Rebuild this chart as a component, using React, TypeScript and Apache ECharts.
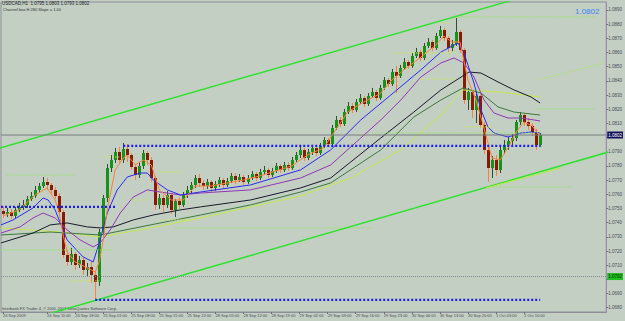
import React, { useEffect, useRef } from "react";
import * as echarts from "echarts";

const symbolTitle = "USDCAD,H1";
const indicatorNote = "Channel box H 280 Slope = 1.00";
const copyright = "Interbank FX Trader 4, \u00a9 2001-2007 MetaQuotes Software Corp.";

const barSlots = 151;

const opens = [
  1.07482,1.07461,1.07475,1.07447,1.07490,1.07511,1.07525,1.07567,1.07588,1.07631,
  1.07659,1.07687,1.07666,1.07631,1.07588,1.07475,1.07172,1.07123,1.07179,1.07102,
  1.07137,1.07067,1.07088,1.07031,1.06982,1.07334,1.07574,1.07786,1.07842,1.07898,
  1.07842,1.07920,1.07877,1.07793,1.07736,1.07800,1.07891,1.07842,1.07715,1.07525,
  1.07574,1.07525,1.07595,1.07490,1.07553,1.07525,1.07595,1.07631,1.07666,1.07715,
  1.07680,1.07659,1.07687,1.07645,1.07673,1.07701,1.07666,1.07694,1.07729,1.07701,
  1.07722,1.07687,1.07715,1.07743,1.07715,1.07757,1.07772,1.07736,1.07764,1.07800,
  1.07772,1.07807,1.07786,1.07842,1.07877,1.07913,1.07856,1.07898,1.07927,1.07891,
  1.07941,1.07983,1.07955,1.08068,1.08124,1.08096,1.08180,1.08223,1.08195,1.08251,
  1.08279,1.08237,1.08293,1.08321,1.08279,1.08350,1.08406,1.08378,1.08462,1.08434,
  1.08491,1.08533,1.08505,1.08575,1.08603,1.08561,1.08646,1.08674,1.08632,1.08716,
  1.08759,1.08702,1.08632,1.08660,1.08744,1.08618,1.08265,1.08321,1.08195,1.08293,
  1.08089,1.07913,1.07786,1.07842,1.07772,1.07913,1.07948,1.07976,1.07997,1.08110,
  1.08159,1.08110,1.08082,1.08039,1.07948,
];
const closes = [
  1.07461,1.07475,1.07447,1.07490,1.07511,1.07525,1.07567,1.07588,1.07631,1.07659,
  1.07687,1.07666,1.07631,1.07588,1.07475,1.07172,1.07123,1.07179,1.07102,1.07137,
  1.07067,1.07088,1.07031,1.06982,1.07334,1.07574,1.07786,1.07842,1.07898,1.07842,
  1.07920,1.07877,1.07793,1.07736,1.07800,1.07891,1.07842,1.07715,1.07525,1.07574,
  1.07525,1.07595,1.07490,1.07553,1.07525,1.07595,1.07631,1.07666,1.07715,1.07680,
  1.07659,1.07687,1.07645,1.07673,1.07701,1.07666,1.07694,1.07729,1.07701,1.07722,
  1.07687,1.07715,1.07743,1.07715,1.07757,1.07772,1.07736,1.07764,1.07800,1.07772,
  1.07807,1.07786,1.07842,1.07877,1.07913,1.07856,1.07898,1.07927,1.07891,1.07941,
  1.07983,1.07955,1.08068,1.08124,1.08096,1.08180,1.08223,1.08195,1.08251,1.08279,
  1.08237,1.08293,1.08321,1.08279,1.08350,1.08406,1.08378,1.08462,1.08434,1.08491,
  1.08533,1.08505,1.08575,1.08603,1.08561,1.08646,1.08674,1.08632,1.08716,1.08759,
  1.08702,1.08632,1.08660,1.08744,1.08618,1.08265,1.08321,1.08195,1.08293,1.08089,
  1.07913,1.07786,1.07842,1.07772,1.07913,1.07948,1.07976,1.07997,1.08110,1.08159,
  1.08110,1.08082,1.08039,1.07948,1.08018,
];
const highs = [
  1.07517,1.07504,1.07497,1.07511,1.07539,1.07560,1.07588,1.07616,1.07659,1.07680,
  1.07722,1.07715,1.07680,1.07652,1.07609,1.07490,1.07208,1.07222,1.07193,1.07165,
  1.07158,1.07116,1.07123,1.07052,1.07356,1.07595,1.07814,1.07877,1.07927,1.07934,
  1.07962,1.07955,1.07891,1.07814,1.07828,1.07913,1.07905,1.07863,1.07729,1.07602,
  1.07595,1.07623,1.07609,1.07567,1.07581,1.07616,1.07659,1.07687,1.07736,1.07743,
  1.07701,1.07708,1.07701,1.07694,1.07722,1.07715,1.07715,1.07750,1.07750,1.07743,
  1.07736,1.07736,1.07764,1.07757,1.07779,1.07800,1.07786,1.07786,1.07821,1.07814,
  1.07828,1.07828,1.07863,1.07898,1.07948,1.07927,1.07920,1.07948,1.07941,1.07962,
  1.08004,1.07997,1.08089,1.08152,1.08145,1.08202,1.08251,1.08244,1.08272,1.08307,
  1.08293,1.08314,1.08350,1.08336,1.08371,1.08427,1.08420,1.08484,1.08505,1.08512,
  1.08561,1.08547,1.08596,1.08632,1.08618,1.08667,1.08702,1.08688,1.08737,1.08787,
  1.08773,1.08716,1.08688,1.08843,1.08759,1.08632,1.08350,1.08336,1.08314,1.08307,
  1.08110,1.07934,1.07870,1.07877,1.07934,1.07983,1.08004,1.08025,1.08124,1.08180,
  1.08173,1.08138,1.08103,1.08061,1.08032,
];
const lows = [
  1.07433,1.07440,1.07426,1.07433,1.07475,1.07490,1.07504,1.07553,1.07574,1.07609,
  1.07645,1.07631,1.07602,1.07567,1.07461,1.07151,1.07095,1.07102,1.07067,1.07081,
  1.07031,1.07024,1.06975,1.06862,1.06954,1.07306,1.07546,1.07757,1.07821,1.07814,
  1.07821,1.07828,1.07772,1.07701,1.07715,1.07779,1.07807,1.07687,1.07490,1.07497,
  1.07475,1.07504,1.07461,1.07440,1.07497,1.07511,1.07574,1.07609,1.07645,1.07652,
  1.07631,1.07638,1.07616,1.07624,1.07652,1.07638,1.07652,1.07680,1.07673,1.07687,
  1.07666,1.07673,1.07701,1.07694,1.07701,1.07736,1.07715,1.07722,1.07750,1.07750,
  1.07757,1.07764,1.07772,1.07828,1.07856,1.07835,1.07842,1.07877,1.07870,1.07877,
  1.07927,1.07934,1.07941,1.08054,1.08075,1.08082,1.08166,1.08173,1.08180,1.08237,
  1.08216,1.08223,1.08279,1.08258,1.08265,1.08336,1.08357,1.08364,1.08314,1.08420,
  1.08477,1.08484,1.08491,1.08561,1.08540,1.08547,1.08632,1.08610,1.08618,1.08702,
  1.08681,1.08603,1.08610,1.08646,1.08596,1.08237,1.08195,1.08138,1.08103,1.08068,
  1.07884,1.07687,1.07715,1.07729,1.07750,1.07884,1.07913,1.07941,1.07976,1.08089,
  1.08082,1.08054,1.08011,1.07913,1.07934,
];

// moving averages: [bar, price]
const maFast = [
  [0,1.07447],[4,1.07490],[8,1.07595],[11,1.07645],[13,1.07560],[14,1.07475],[15,1.07313],
  [16,1.07193],[18,1.07123],[20,1.07095],[22,1.07067],[23,1.07052],[24,1.07123],[25,1.07278],
  [26,1.07490],[27,1.07631],[28,1.07772],[30,1.07856],[31,1.07877],[33,1.07807],[35,1.07842],
  [37,1.07807],[39,1.07631],[42,1.07560],[45,1.07560],[48,1.07659],[52,1.07659],[56,1.07680],
  [60,1.07701],[64,1.07729],[68,1.07764],[72,1.07800],[76,1.07877],[80,1.07927],[83,1.08054],
  [86,1.08180],[90,1.08251],[94,1.08307],[97,1.08406],[100,1.08477],[104,1.08561],[108,1.08653],
  [110,1.08716],[112,1.08674],[114,1.08674],[116,1.08406],[118,1.08265],[120,1.08068],
  [122,1.07856],[124,1.07842],[126,1.07927],[128,1.08039],[130,1.08110],[132,1.08082],[134,1.08011],
];
const maBlue = [
  [-0.5,1.07384],[2.5,1.07419],[7.5,1.07504],[10,1.07574],[11.25,1.07560],[13,1.07490],
  [16,1.07278],[20,1.07158],[22.5,1.07123],[24.25,1.07278],[26,1.07468],[28.5,1.07631],
  [31,1.07722],[34.25,1.07750],[36,1.07750],[37.5,1.07701],[41,1.07631],[44.25,1.07595],
  [47.5,1.07609],[49.25,1.07616],[61.75,1.07666],[74.25,1.07772],[81.75,1.07913],
  [89.25,1.08124],[96.75,1.08300],[104.25,1.08477],[109.25,1.08603],[113.5,1.08667],
  [115,1.08596],[117.5,1.08385],[119.25,1.08195],[121,1.08075],[122.5,1.08032],[126,1.08004],
  [129.25,1.08032],[131.75,1.08039],[134,1.08032],
];
const maPurple = [
  [-0.5,1.07327],[4.25,1.07370],[7.5,1.07433],[10,1.07468],[13,1.07433],[16,1.07349],
  [19.25,1.07278],[22.5,1.07229],[24.25,1.07257],[26.75,1.07349],[29.25,1.07468],
  [32.5,1.07581],[36,1.07631],[39.25,1.07616],[44.25,1.07595],[49.25,1.07609],[61.75,1.07631],
  [74.25,1.07715],[81.75,1.07807],[89.25,1.07997],[94.25,1.08124],[99.25,1.08265],
  [104.25,1.08427],[109.25,1.08526],[112.5,1.08561],[115,1.08526],[117.5,1.08427],
  [120,1.08265],[122.5,1.08173],[126,1.08138],[129.25,1.08138],[132.5,1.08124],[134,1.08117],
];
const maBlack = [
  [-0.5,1.07257],[7.5,1.07327],[11.75,1.07384],[16,1.07398],[21,1.07370],[24.25,1.07363],
  [27.5,1.07370],[32.5,1.07419],[37.5,1.07454],[44.25,1.07490],[49.25,1.07511],[61.75,1.07560],
  [74.25,1.07645],[81.75,1.07715],[86.75,1.07828],[94.25,1.07997],[102.5,1.08180],
  [109.25,1.08336],[116.25,1.08462],[119.25,1.08455],[123.5,1.08392],[127.5,1.08336],
  [131.75,1.08286],[134,1.08244],
];
const maGreen = [
  [-0.5,1.07313],[11.75,1.07334],[24.25,1.07313],[36.75,1.07384],[49.25,1.07454],
  [61.75,1.07525],[74.25,1.07616],[81.75,1.07680],[94.25,1.07913],[102.5,1.08145],
  [109.25,1.08265],[114.75,1.08350],[119.25,1.08314],[123.5,1.08216],[127.5,1.08180],[134,1.08159],
];
const maLime = [
  [-0.5,1.07363],[14.25,1.07334],[24.25,1.07299],[36.75,1.07363],[49.25,1.07433],
  [61.75,1.07511],[74.25,1.07588],[86.75,1.07715],[99.25,1.07913],[109.25,1.08159],
  [114.75,1.08336],[124.25,1.08321],[134,1.08286],
];

// horizontal objects: price, from bar, to bar
const levelsGreen = [
  [1.08850, 112, 148], [1.08202, 133, 148], [1.08032, 92, 134], [1.07652, 120, 142],
  [1.07736, 1, 18], [1.07363, 43, 92], [1.07208, -0.5, 27],
];
const levelsYellow = [
  [1.08808, 109, 112], [1.08596, 97, 113], [1.08413, 104, 113], [1.08075, 115, 122],
  [1.07863, 25, 29], [1.07757, 39, 45], [1.07560, 32, 36], [1.07419, 39, 47], [1.06989, 17, 24],
];
const levelsBlue = [
  [1.07511, -0.5, 28], [1.07941, 30, 134], [1.06855, 23, 134],
];
const channelUpper = [[-1, 1.07925], [131, 1.09001]];
const channelLower = [[10, 1.06745], [151, 1.07898]];
const channelInner = [[120.5, 1.07645], [139.25, 1.07786]];
const channelDotted = [[133.5, 1.08406], [150, 1.08526]];
const lineObjectPrice = 1.0702;

const priceTicks = [
  1.068, 1.069, 1.07, 1.071, 1.072, 1.073, 1.074, 1.075, 1.076, 1.077, 1.078,
  1.079, 1.08, 1.081, 1.082, 1.083, 1.084, 1.085, 1.086, 1.087, 1.088, 1.089,
];
const timeLabelBars = [0, 11, 18, 25, 32, 39, 46, 53, 60, 67, 74, 81, 88, 95, 102, 109, 116, 123, 130];
const timeLabels = [
  "24 Sep 2009", "24 Sep 11:00", "24 Sep 18:00", "25 Sep 01:00", "25 Sep 08:00", "25 Sep 15:00",
  "25 Sep 22:00", "28 Sep 05:00", "28 Sep 12:00", "28 Sep 19:00", "29 Sep 02:00", "29 Sep 09:00",
  "29 Sep 16:00", "29 Sep 23:00", "30 Sep 06:00", "30 Sep 13:00", "30 Sep 20:00", "1 Oct 03:00",
  "1 Oct 10:00",
];

const FONT = "'Liberation Sans', Arial, sans-serif";

export default function App() {
  const ref = useRef<HTMLDivElement>(null);
  useEffect(() => {
    if (!ref.current) return;
    const chart = echarts.init(ref.current, null, { renderer: "svg" });
    const n = closes.length;
    const last = n - 1;
    const bid = closes[last];
    const candleData = closes.map((c, i) => [i, opens[i], c, lows[i], highs[i]]);
    const boxedPrices = [bid, lineObjectPrice];

    const seg = (arr: number[][], color: string, width: number, type: any, z = 3) =>
      arr.map(([p, a, b]) => ({
        type: "line",
        data: [[a, p], [b, p]],
        symbol: "none",
        silent: true,
        z,
        lineStyle: { color, width, type },
      }));

    const lineSeries = (data: number[][], color: string, width: number, type: any = "solid", z = 3) => ({
      type: "line",
      data,
      symbol: "none",
      silent: true,
      z,
      lineStyle: { color, width, type },
    });

    const option: any = {
      animation: false,
      backgroundColor: "#c3cfc2",
      grid: {
        left: 1,
        right: 18,
        top: 2,
        bottom: 9,
        show: true,
        borderColor: "#8e8e9a",
        borderWidth: 1,
      },
      xAxis: {
        type: "value",
        min: -0.5,
        max: barSlots - 0.5,
        splitLine: { show: false },
        axisLine: { show: true, lineStyle: { color: "#8e8e9a" } },
        axisTick: { show: true, customValues: timeLabelBars, length: 2, lineStyle: { color: "#707080" } },
        axisLabel: {
          customValues: timeLabelBars,
          formatter: (v: number) => timeLabels[timeLabelBars.indexOf(Math.round(v))] || "",
          fontSize: 4,
          color: "#4a4a5a",
          fontFamily: FONT,
          align: "left",
          margin: 1,
        },
      },
      yAxis: {
        type: "value",
        position: "right",
        min: 1.0677,
        max: 1.08956,
        splitLine: { show: false },
        axisLine: { show: true, onZero: false, lineStyle: { color: "#a08cb0" } },
        axisTick: { show: true, customValues: priceTicks, length: 2, lineStyle: { color: "#707080" } },
        axisLabel: {
          customValues: priceTicks,
          formatter: (v: number) =>
            boxedPrices.some((p) => Math.abs(p - v) < 0.0004) ? "" : v.toFixed(4),
          fontSize: 4.5,
          color: "#4a4a5a",
          fontFamily: FONT,
          margin: 2,
        },
      },
      series: [
        {
          type: "custom",
          data: candleData,
          clip: true,
          silent: true,
          z: 2,
          encode: { x: 0, y: [1, 2, 3, 4] },
          renderItem: (params: any, api: any) => {
            const i = api.value(0);
            const o = api.value(1);
            const c = api.value(2);
            const l = api.value(3);
            const h = api.value(4);
            const pO = api.coord([i, o]);
            const pC = api.coord([i, c]);
            const pL = api.coord([i, l]);
            const pH = api.coord([i, h]);
            const x = Math.round(pO[0]);
            const bull = c >= o;
            const top = Math.round(Math.min(pO[1], pC[1]));
            const bot = Math.round(Math.max(pO[1], pC[1]));
            return {
              type: "group",
              children: [
                {
                  type: "line",
                  shape: { x1: x + 0.5, y1: pH[1], x2: x + 0.5, y2: pL[1] },
                  style: { stroke: bull ? "#2f4f2f" : "#ff8040", lineWidth: 1 },
                },
                {
                  type: "rect",
                  shape: { x: x - 1, y: top, width: 3, height: Math.max(1, bot - top) },
                  style: { fill: bull ? "#17921a" : "#861a02" },
                },
              ],
            };
          },
        },
        lineSeries(maLime, "#c6e84e", 1),
        lineSeries(maGreen, "#3b7a3b", 1),
        lineSeries(maBlack, "#1a1a2c", 1),
        lineSeries(maPurple, "#9236b8", 1),
        lineSeries(maBlue, "#2a2af2", 1),
        lineSeries(maFast, "#ff7f3c", 1),
        ...seg(levelsGreen, "#8ee860", 1, [1.5, 1.5], 4),
        ...seg(levelsYellow, "#c8ec4a", 1, [1.5, 1.5], 4),
        lineSeries(channelUpper, "#2ee22e", 1.5, "solid", 4),
        lineSeries(channelLower, "#2ee22e", 1.5, "solid", 4),
        lineSeries(channelInner, "#b8ec3c", 1, "solid", 4),
        lineSeries(channelDotted, "#a8ec5a", 1, [1.5, 1.5], 4),
        ...seg(levelsBlue, "#1c1cff", 2.2, [2, 2], 5),
        {
          type: "line",
          data: [[-0.5, lineObjectPrice], [barSlots - 0.5, lineObjectPrice]],
          symbol: "none",
          silent: true,
          z: 4,
          lineStyle: { color: "#8a8a92", width: 1, type: [1, 1] },
          endLabel: {
            show: true,
            formatter: lineObjectPrice.toFixed(4),
            backgroundColor: "#1fbf1f",
            color: "#0c2a0c",
            fontSize: 4.5,
            fontFamily: FONT,
            padding: [1, 1, 1, 1],
            distance: 1,
          },
        },
        {
          type: "line",
          data: [[-0.5, bid], [barSlots - 0.5, bid]],
          symbol: "none",
          silent: true,
          z: 4,
          lineStyle: { color: "#7a7a82", width: 1 },
          endLabel: {
            show: true,
            formatter: bid.toFixed(4),
            backgroundColor: "#12125a",
            color: "#ffffff",
            fontSize: 4.5,
            fontFamily: FONT,
            padding: [1, 1, 1, 1],
            distance: 1,
          },
        },
      ],
      graphic: [
        {
          type: "text",
          x: 2,
          y: 1,
          style: {
            text: `${symbolTitle}  ${opens[last].toFixed(4)} ${highs[last].toFixed(4)} ${lows[last].toFixed(4)} ${bid.toFixed(4)}`,
            fontSize: 4.5,
            fontFamily: FONT,
            fill: "#202028",
          },
        },
        {
          type: "text",
          x: 3,
          y: 7,
          style: { text: indicatorNote, fontSize: 4, fontFamily: FONT, fill: "#303038" },
        },
        {
          type: "text",
          x: 575,
          y: 7,
          style: { text: bid.toFixed(4), fontSize: 8, fontFamily: FONT, fill: "#3a86f0" },
        },
        {
          type: "text",
          x: 2,
          y: 306,
          style: { text: copyright, fontSize: 4, fontFamily: FONT, fill: "#404048" },
        },
      ],
    };
    chart.setOption(option);
    return () => chart.dispose();
  }, []);
  return (
    <div
      ref={ref}
      style={{ position: "fixed", left: 0, top: 0, width: 625, height: 321 }}
    />
  );
}
